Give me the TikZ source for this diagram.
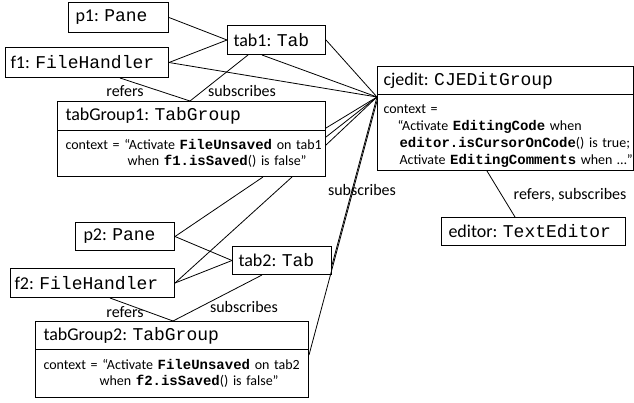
\documentclass[tikz,border=0pt]{standalone}
\usepackage{fontspec}
\setmainfont{Carlito}
\setmonofont{Liberation Mono}
\newcommand{\mb}[1]{\textbf{\texttt{#1}}}
\begin{document}
\begin{tikzpicture}[x=1pt,y=-1pt,
  box/.style={draw, line width=1pt, inner sep=0pt, anchor=north west},
  ttl/.style={box, font=\fontsize{18}{20}\selectfont},
  ctx/.style={box, font=\fontsize{14}{16}\selectfont, align=left, inner xsep=8pt, inner ysep=0pt},
  conn/.style={line width=0.8pt},
  lbl/.style={font=\fontsize{16}{18}\selectfont, inner sep=0pt}]
\useasboundingbox (0,0) rectangle (634,402);
% boxes
\node[ttl, minimum width=100pt, minimum height=30pt] (p1) at (68,2) {\makebox[86pt][l]{p1: \texttt{Pane}}};
\node[ttl, minimum width=98pt, minimum height=29pt] (tab1) at (227,25) {\makebox[86pt][l]{tab1: \texttt{Tab}}};
\node[ttl, minimum width=163pt, minimum height=30pt] (f1) at (5,47) {\makebox[153pt][l]{f1: \texttt{FileHandler}}};
\node[ttl, minimum width=268pt, minimum height=29pt] (tg1t) at (57,101) {\makebox[252pt][l]{tabGroup1: \texttt{TabGroup}}};
\node[ctx, text width=252pt, minimum height=46pt] (tg1c) at (57,130) {\mbox{context = “Activate \mb{FileUnsaved} on tab1}\\\mbox{\hspace*{62pt}when \mb{f1.isSaved}() is false”}};
\node[ttl, minimum width=256pt, minimum height=28pt] (cjt) at (377,66) {\makebox[244pt][l]{cjedit: \texttt{CJEDitGroup}}};
\node[ctx, font=\fontsize{14}{17}\selectfont, inner xsep=6pt, text width=244pt, minimum height=76pt] (cjc) at (377,94) {\mbox{\rule{0pt}{15pt}context =}\\\mbox{\hspace*{14pt}“Activate \mb{EditingCode} when}\\\mbox{\hspace*{16pt}\mb{editor.isCursorOnCode}() is true;}\\\mbox{\hspace*{16pt}Activate \mb{EditingComments} when …”}};
\node[ttl, minimum width=184pt, minimum height=28pt] (ed) at (441,217) {\makebox[170pt][l]{editor: \texttt{TextEditor}}};
\node[ttl, minimum width=99pt, minimum height=28pt] (p2) at (75,222) {\makebox[83pt][l]{p2: \texttt{Pane}}};
\node[ttl, minimum width=99pt, minimum height=28pt] (tab2) at (232,246) {\makebox[87pt][l]{tab2: \texttt{Tab}}};
\node[ttl, minimum width=164pt, minimum height=29pt] (f2) at (10,268) {\makebox[156pt][l]{f2: \texttt{FileHandler}}};
\node[ttl, minimum width=273pt, minimum height=28pt] (tg2t) at (35,321) {\makebox[257pt][l]{tabGroup2: \texttt{TabGroup}}};
\node[ctx, text width=257pt, minimum height=48pt] (tg2c) at (35,349) {\mbox{context = “Activate \mb{FileUnsaved} on tab2}\\\mbox{\hspace*{56pt}when \mb{f2.isSaved}() is false”}};
\coordinate (C) at (377,97);
\coordinate (C2) at (377,101);
% connectors
\draw[conn] (p1.east) -- (tab1.west);
\draw[conn] (f1.east) -- (tab1.west);
\draw[conn] (tab1.east) -- (C);
\draw[conn] ([xshift=35pt]tab1.south west) -- (C);
\draw[conn] (f1.east) -- (C);
\draw[conn] ([xshift=21pt]tab1.south west) -- ([xshift=133pt]tg1t.north west);
\draw[conn] ([xshift=115pt]f1.south west) -- ([xshift=133pt]tg1t.north west);
\draw[conn] ([yshift=2pt]tg1c.north east) -- (C);
\draw[conn] ([yshift=-7pt]tg1c.north east) -- (C);
\draw[conn] ([yshift=-15pt]tg1c.north east) -- (C);
\draw[conn] ([xshift=206pt]tg1c.south west) -- (p2.east);
\draw[conn] ([xshift=235pt]tg1c.south west) -- (f2.east);
\draw[conn] (p2.east) -- (tab2.west);
\draw[conn] (f2.east) -- (tab2.west);
\draw[conn] (C) -- ([yshift=10pt]tab2.south east);
\draw[conn] (C2) -- ([yshift=-6pt]tg2c.north east);
\draw[conn] ([xshift=30pt]tab2.south west) -- ([xshift=138pt]tg2t.north west);
\draw[conn] ([xshift=100pt]f2.south west) -- ([xshift=138pt]tg2t.north west);
\draw[conn] ([xshift=110pt]cjc.south west) -- ([xshift=74pt]ed.north west);
% labels
\node[lbl] (lref1) at (125,91) {refers};
\node[lbl] (lsub1) at (242,91) {subscribes};
\node[lbl] (lsub2) at (362,190) {subscribes};
\node[lbl] (lref2) at (125,312) {refers};
\node[lbl] (lsub3) at (244,307) {subscribes};
\node[lbl] (lrs) at (570,195) {refers, subscribes};
\end{tikzpicture}
\end{document}
